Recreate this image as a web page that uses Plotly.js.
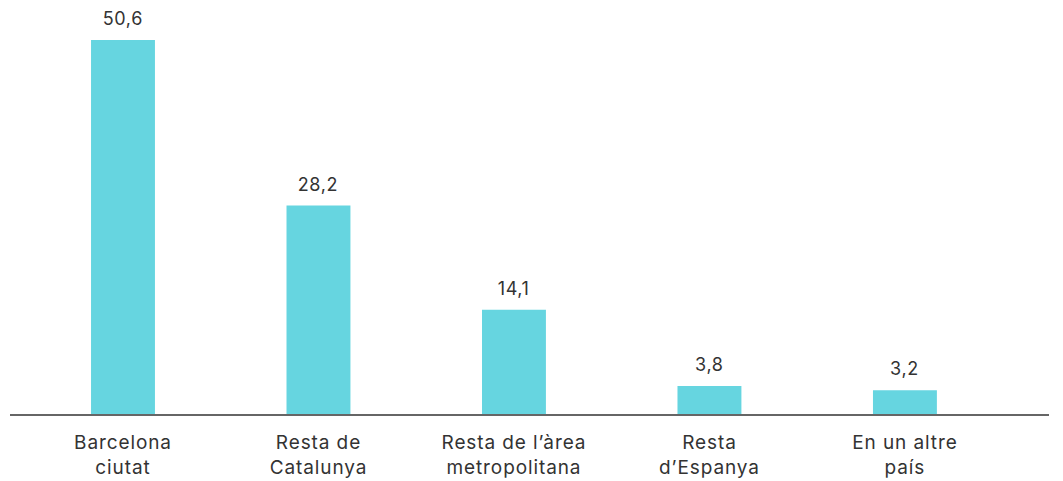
<!DOCTYPE html>
<html>
<head>
<meta charset="utf-8">
<script src="https://cdn.plot.ly/plotly-3.0.1.min.js"></script>
<style>
html,body{margin:0;padding:0;background:#fff;}
#chart{width:1063px;height:481px;}
#chart .xtick text{letter-spacing:0.9px;}
#chart .annotation-text{letter-spacing:0.6px;}
</style>
</head>
<body>
<div id="chart"></div>
<script>
const categories = [
  "Barcelona<br>ciutat",
  "Resta de<br>Catalunya",
  "Resta de l’àrea<br>metropolitana",
  "Resta<br>d’Espanya",
  "En un altre<br>país"
];
const values = [50.6, 28.2, 14.1, 3.8, 3.2];
const valueLabels = values.map(v => v.toFixed(1).replace('.', ','));

const FONT = 'Inter, "Noto Sans", sans-serif';

const trace = {
  type: 'bar',
  x: categories,
  y: values,
  marker: {color: '#66D5E0'},
  hoverinfo: 'skip'
};

const annotations = categories.map((c, i) => ({
  x: c, y: values[i], xref: 'x', yref: 'y',
  text: valueLabels[i], showarrow: false,
  yanchor: 'bottom', yshift: 9,
  font: {family: FONT, size: 18, color: '#333333'}
}));

const layout = {
  width: 1063, height: 481,
  margin: {l: 10, r: 14, t: 0, b: 67},
  paper_bgcolor: '#ffffff', plot_bgcolor: '#ffffff',
  separators: ',.',
  bargap: 0.673,
  showlegend: false,
  xaxis: {
    type: 'category',
    range: [-0.578, 4.737],
    showline: true, linecolor: '#666666', linewidth: 1.5,
    showgrid: false, zeroline: false, ticks: '',
    ticklabelstandoff: 11,
    tickfont: {family: FONT, size: 19, color: '#333333'}
  },
  yaxis: {
    range: [0, 56],
    visible: false, showgrid: false, zeroline: false
  },
  annotations: annotations
};

Plotly.newPlot('chart', [trace], layout, {staticPlot: true, displayModeBar: false});
</script>
</body>
</html>
